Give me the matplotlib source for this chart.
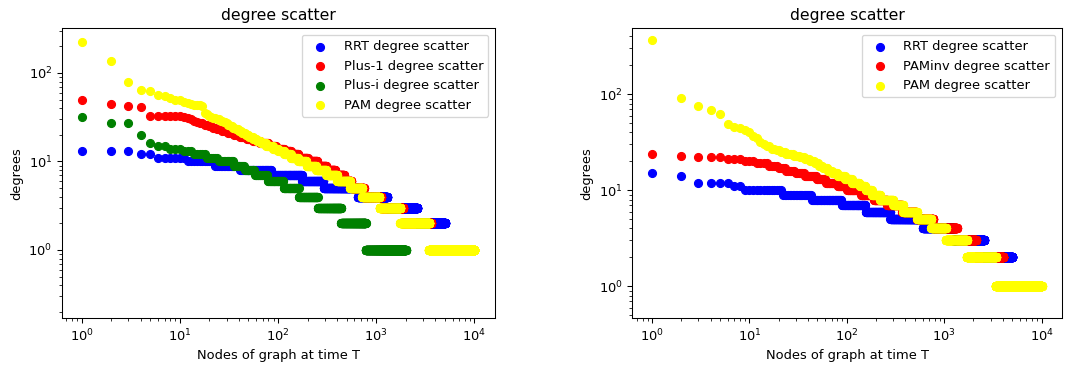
import numpy as np
import matplotlib
matplotlib.use("Agg")
import matplotlib.pyplot as plt

# ---- data: distinct degree values (descending) and the last rank that has that degree ----
# Left panel
rrt1_deg = [13, 12, 11, 10, 9, 8, 7, 6, 5, 4, 3, 2]
rrt1_end = [3, 5, 11, 22, 40, 85, 175, 290, 650, 1300, 2620, 5000]

plus1_deg = [50, 45, 42, 41, 33, 32, 31, 30, 29, 28, 27, 26, 25, 24, 23, 22, 21, 20, 19, 18,
             17, 16, 15, 14, 13, 12, 11, 10, 9, 8, 7, 6, 5, 4, 3, 2]
plus1_end = [1, 2, 3, 4, 10, 11, 12, 13, 14, 15, 17, 19, 21, 23, 26, 30, 35, 40, 47, 55,
             65, 80, 95, 115, 135, 160, 200, 250, 310, 380, 470, 560, 750, 1130, 1880, 3600]

plusi_deg = [32, 27, 20, 16, 15, 14, 13, 12, 11, 10, 9, 8, 7, 6, 5, 4, 3, 2, 1]
plusi_end = [1, 3, 4, 5, 7, 10, 13, 18, 24, 35, 45, 57, 78, 113, 162, 253, 438, 780, 2000]

pam1_deg = [223, 138, 79, 64, 62, 57, 55, 52, 50, 49, 47, 46, 45, 44, 43, 42, 35, 34, 33, 32,
            31, 30, 29, 28, 27, 26, 25, 24, 23, 22, 21, 20, 19, 18, 17, 16, 15, 14, 13, 12,
            11, 10, 9, 8, 7, 6, 5, 4, 3, 2, 1]
pam1_end = [1, 2, 3, 4, 5, 6, 7, 8, 9, 10, 11, 12, 13, 14, 16, 17, 18, 19, 20, 21,
            23, 25, 27, 29, 30, 32, 34, 36, 39, 42, 46, 50, 55, 60, 66, 75, 88, 100, 115, 135,
            160, 195, 245, 310, 400, 540, 720, 1080, 1763, 3464, 10000]

# Right panel
rrt2_deg = [15, 14, 12, 11, 10, 9, 8, 7, 6, 5, 4, 3, 2]
rrt2_end = [1, 2, 6, 8, 21, 43, 88, 155, 280, 604, 1240, 2570, 5000]

paminv_deg = [24, 23, 22, 21, 20, 19, 18, 17, 16, 15, 14, 13, 12, 11, 10, 9, 8, 7, 6, 5, 4, 3, 2]
paminv_end = [1, 2, 5, 8, 11, 15, 19, 23, 29, 36, 48, 60, 80, 100, 140, 190, 260, 370, 520, 776,
              1349, 2115, 4060]

pam2_deg = [368, 92, 75, 69, 62, 49, 46, 44, 42, 40, 37, 35, 32, 30, 29, 27, 26, 25, 24, 23,
            22, 21, 20, 19, 18, 17, 16, 15, 14, 13, 12, 11, 10, 9, 8, 7, 6, 5, 4, 3, 2, 1]
pam2_end = [1, 2, 3, 4, 5, 6, 7, 8, 9, 10, 11, 12, 13, 14, 16, 18, 20, 23, 28, 32,
            36, 41, 46, 51, 56, 63, 70, 80, 95, 112, 135, 155, 180, 220, 300, 380, 530, 737,
            1040, 1710, 3390, 10000]


def degree_sequence(degs, ends):
    counts = np.diff(np.concatenate([[0], ends]))
    return np.repeat(np.asarray(degs, dtype=float), counts)


W, H = 1083, 370
DPI = 94
fig = plt.figure(figsize=(W / DPI, H / DPI), dpi=DPI)


def axes_px(x0, x1, y0, y1):
    return fig.add_axes([x0 / W, 1 - y1 / H, (x1 - x0) / W, (y1 - y0) / H])


ax1 = axes_px(61.5, 495, 28.3, 318.3)
ax2 = axes_px(632, 1062, 28.3, 318.3)

left_series = [
    (rrt1_deg, rrt1_end, "blue", "RRT degree scatter"),
    (plus1_deg, plus1_end, "red", "Plus-1 degree scatter"),
    (plusi_deg, plusi_end, "green", "Plus-i degree scatter"),
    (pam1_deg, pam1_end, "yellow", "PAM degree scatter"),
]
right_series = [
    (rrt2_deg, rrt2_end, "blue", "RRT degree scatter"),
    (paminv_deg, paminv_end, "red", "PAMinv degree scatter"),
    (pam2_deg, pam2_end, "yellow", "PAM degree scatter"),
]

for ax, series, ylim in [(ax1, left_series, (10 ** -0.772, 10 ** 2.505)),
                         (ax2, right_series, (10 ** -0.333, 10 ** 2.686))]:
    for degs, ends, color, label in series:
        seq = degree_sequence(degs, ends)
        ranks = np.arange(1, len(seq) + 1)
        ax.scatter(ranks, seq, c=color, label=label)
    ax.set_xscale("log")
    ax.set_yscale("log")
    ax.set_xlim(10 ** -0.205, 10 ** 4.21)
    ax.set_ylim(*ylim)
    ax.set_title("degree scatter")
    ax.set_xlabel("Nodes of graph at time T")
    ax.set_ylabel("degrees")
    ax.legend(loc="upper right")

fig.savefig("out.png", dpi=DPI)
